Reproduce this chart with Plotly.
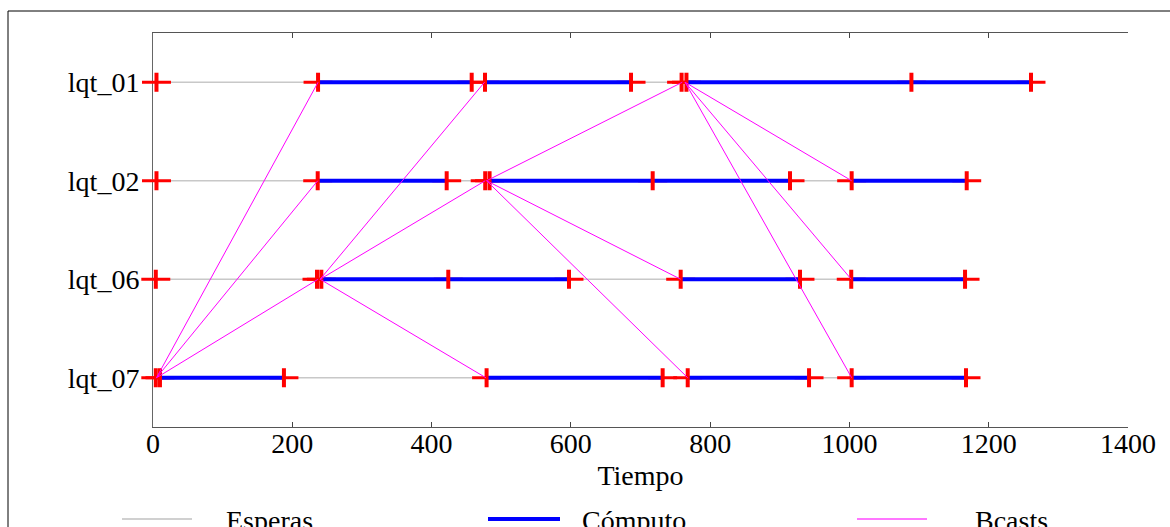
import plotly.graph_objects as go

# Processes, top to bottom
ROWS = ['lqt_01', 'lqt_02', 'lqt_06', 'lqt_07']

# Event instants (state changes) per process
EV_LQT01 = [5, 237, 457.6, 476.7, 686.4, 759, 766, 1089, 1260.7]
EV_LQT02 = [5, 236.5, 421.7, 477, 483.3, 717.5, 914.7, 1003.2, 1168.4]
EV_LQT06 = [4, 235.5, 241.7, 424, 597.3, 757.7, 929, 1002.6, 1166]
EV_LQT07 = [4, 10, 188, 479, 731.8, 767.8, 942, 1003.2, 1167.4]

# Computation intervals (start, end) per process
CPU_LQT01 = [(237, 457.6), (476.7, 686.4), (766, 1089), (1089, 1260.7)]
CPU_LQT02 = [(236.5, 421.7), (483.3, 717.5), (717.5, 914.7), (1003.2, 1168.4)]
CPU_LQT06 = [(241.7, 424), (424, 597.3), (757.7, 929), (1002.6, 1166)]
CPU_LQT07 = [(10, 188), (479, 731.8), (767.8, 942), (1003.2, 1167.4)]

# Broadcast messages: sender, send time, receiver, receive time
MSG_SRC = ['lqt_07', 'lqt_07', 'lqt_07', 'lqt_06', 'lqt_06', 'lqt_06',
           'lqt_02', 'lqt_02', 'lqt_02', 'lqt_01', 'lqt_01', 'lqt_01']
MSG_SEND = [5, 5, 5, 240, 240, 240, 479, 479, 479, 764, 764, 764]
MSG_DST = ['lqt_01', 'lqt_02', 'lqt_06', 'lqt_01', 'lqt_02', 'lqt_07',
           'lqt_01', 'lqt_06', 'lqt_07', 'lqt_02', 'lqt_06', 'lqt_07']
MSG_RECV = [237, 236.5, 237, 476, 477, 478, 760, 757.7, 767.8, 1003.2, 1002.6, 1003.2]

X_TICKS = [0, 200, 400, 600, 800, 1000, 1200, 1400]

EVENTS = dict(zip(ROWS, [EV_LQT01, EV_LQT02, EV_LQT06, EV_LQT07]))
CPU = dict(zip(ROWS, [CPU_LQT01, CPU_LQT02, CPU_LQT06, CPU_LQT07]))

FONT = 'Liberation Serif, Times New Roman, serif'

# wait lines: first to last event of each process
wx, wy = [], []
for r in ROWS:
    ev = EVENTS[r]
    wx += [min(ev), max(ev), None]
    wy += [r, r, None]

# computation segments
cx, cy = [], []
for r in ROWS:
    for a, b in CPU[r]:
        cx += [a, b, None]
        cy += [r, r, None]

# event markers
ex, ey = [], []
for r in ROWS:
    ex += EVENTS[r]
    ey += [r] * len(EVENTS[r])

fig = go.Figure()
fig.add_trace(go.Scatter(x=wx, y=wy, mode='lines', name='Esperas',
                         line=dict(color='#c8c8c8', width=1.5),
                         hoverinfo='skip', showlegend=False))
fig.add_trace(go.Scatter(x=ex, y=ey, mode='markers', cliponaxis=False,
                         marker=dict(symbol='line-ew', size=20.7, color='#ff0000',
                                     line=dict(color='#ff0000', width=3)),
                         hoverinfo='skip', showlegend=False))
fig.add_trace(go.Scatter(x=cx, y=cy, mode='lines', name='Cómputo',
                         line=dict(color='#0000ff', width=4),
                         hoverinfo='skip', showlegend=False))
fig.add_trace(go.Scatter(x=ex, y=ey, mode='markers', cliponaxis=False,
                         marker=dict(symbol='line-ns', size=13.6, color='#ff0000',
                                     line=dict(color='#ff0000', width=4)),
                         hoverinfo='skip', showlegend=False))
# one line per broadcast message
for s, ts, d, td in zip(MSG_SRC, MSG_SEND, MSG_DST, MSG_RECV):
    fig.add_trace(go.Scatter(x=[ts, td], y=[s, d], mode='lines', name='Bcasts',
                             legendgroup='bcasts',
                             line=dict(color='#ff00ff', width=1),
                             hoverinfo='skip', showlegend=False))

L, R, T, B = 153, 42, 33, 100
W, H = 1170, 527
PW, PH = W - L - R, H - T - B


def px(x):
    return (x - L) / PW


def py(y):
    return (H - B - y) / PH


shapes = [
    # outer frame
    dict(type='rect', xref='paper', yref='paper', x0=px(8), x1=px(1185),
         y0=py(11), y1=py(560), line=dict(color='black', width=1)),
]
annotations = []
legend_items = [
    ('Esperas', '#d0d0d0', 2, 122, 192, 224),
    ('Cómputo', '#0000ff', 4, 488, 560, 580),
    ('Bcasts', '#ff77ff', 2, 857, 927, 973),
]
for name, col, lw, x0, x1, xt in legend_items:
    shapes.append(dict(type='line', xref='paper', yref='paper', x0=px(x0), x1=px(x1),
                       y0=py(519), y1=py(519), line=dict(color=col, width=lw)))
    annotations.append(dict(text=name, xref='paper', yref='paper', x=px(xt), y=py(520),
                            xanchor='left', yanchor='middle', showarrow=False,
                            font=dict(family=FONT, size=28, color='black')))

fig.update_layout(
    width=W, height=H,
    margin=dict(l=L, r=R, t=T, b=B),
    paper_bgcolor='white', plot_bgcolor='white',
    font=dict(family=FONT, size=28, color='black'),
    showlegend=False,
    shapes=shapes,
    annotations=annotations,
    xaxis=dict(range=[0, 1400], tickvals=X_TICKS, ticks='inside', ticklen=5,
               tickcolor='#444', showline=True, linecolor='#555', linewidth=1,
               mirror='ticks', showgrid=False, zeroline=False, layer='below traces',
               ticklabelstandoff=-9,
               title=dict(text='Tiempo', standoff=7,
                          font=dict(family=FONT, size=28, color='black')),
               tickfont=dict(family=FONT, size=28)),
    yaxis=dict(type='category', categoryorder='array', categoryarray=ROWS[::-1],
               range=[-0.5, 3.5], showline=True, linecolor='#666', linewidth=1,
               ticks='', showgrid=False, zeroline=False, layer='below traces',
               ticklabelstandoff=7, tickfont=dict(family=FONT, size=28)),
    yaxis2=dict(overlaying='y', side='right', range=[-0.5, 3.5], tickvals=[0, 1, 2, 3],
                showticklabels=False, ticks='inside', ticklen=8, tickcolor='#222',
                showline=True, linecolor='#888', linewidth=2, showgrid=False,
                zeroline=False),
)

fig.write_html('out.html')
